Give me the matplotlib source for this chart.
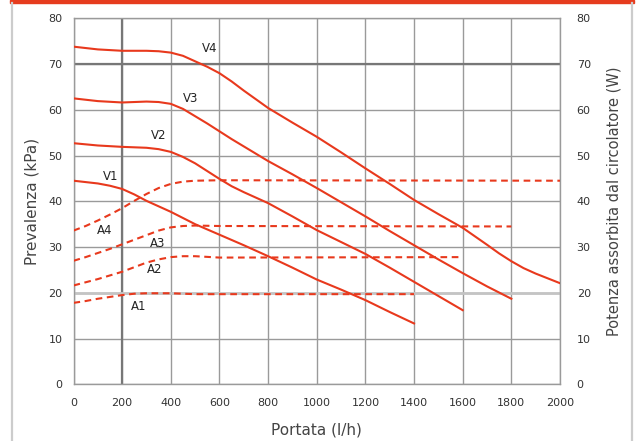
import matplotlib
matplotlib.use("Agg")
import matplotlib.pyplot as plt
from matplotlib.lines import Line2D
from matplotlib.patches import Rectangle

# ===== Data =====
v4_x = [0, 100, 200, 300, 350, 400, 450, 500, 550, 600, 650, 700, 800, 900, 1000, 1100, 1200, 1300, 1400, 1500, 1600, 1700, 1750, 1800, 1850, 1900, 2000]
v4_y = [73.8, 73.2, 72.9, 72.9, 72.8, 72.5, 71.8, 70.6, 69.4, 68.0, 66.2, 64.2, 60.4, 57.2, 54.1, 50.7, 47.2, 43.8, 40.3, 37.2, 34.2, 30.5, 28.6, 26.9, 25.4, 24.2, 22.1]
v3_x = [0, 100, 200, 300, 350, 400, 450, 500, 550, 600, 650, 700, 800, 900, 1000, 1100, 1200, 1300, 1400, 1500, 1600, 1700, 1800]
v3_y = [62.5, 61.9, 61.6, 61.8, 61.7, 61.3, 60.2, 58.6, 57.0, 55.3, 53.6, 52.0, 48.8, 45.9, 42.9, 39.8, 36.7, 33.5, 30.4, 27.3, 24.3, 21.4, 18.7]
v2_x = [0, 100, 200, 300, 350, 400, 450, 500, 550, 600, 650, 700, 800, 900, 1000, 1100, 1200, 1300, 1400, 1500, 1600]
v2_y = [52.7, 52.2, 51.9, 51.7, 51.4, 50.8, 49.7, 48.3, 46.6, 44.9, 43.3, 42.0, 39.6, 36.7, 33.7, 31.1, 28.5, 25.5, 22.4, 19.3, 16.2]
v1_x = [0, 100, 150, 200, 250, 300, 400, 500, 600, 700, 800, 900, 1000, 1100, 1200, 1300, 1400]
v1_y = [44.5, 43.9, 43.4, 42.7, 41.5, 40.1, 37.7, 35.0, 32.7, 30.4, 28.0, 25.5, 22.9, 20.7, 18.4, 15.8, 13.3]

a4_x = [0, 50, 100, 150, 200, 250, 300, 350, 400, 450, 500, 600, 2000]
a4_y = [33.6, 34.6, 35.8, 37.1, 38.5, 40.1, 41.6, 42.9, 43.8, 44.3, 44.5, 44.6, 44.5]
a3_x = [0, 50, 100, 150, 200, 250, 300, 350, 400, 450, 500, 600, 1800]
a3_y = [27.0, 27.8, 28.7, 29.6, 30.6, 31.6, 32.6, 33.6, 34.3, 34.6, 34.7, 34.6, 34.5]
a2_x = [0, 50, 100, 150, 200, 250, 300, 350, 400, 450, 500, 600, 1600]
a2_y = [21.6, 22.3, 23.0, 23.8, 24.6, 25.6, 26.6, 27.3, 27.8, 28.0, 28.0, 27.7, 27.8]
a1_x = [0, 50, 100, 150, 200, 250, 300, 400, 500, 1400]
a1_y = [17.8, 18.2, 18.7, 19.1, 19.5, 19.8, 19.9, 19.9, 19.7, 19.7]

x_ticks = list(range(0, 2001, 200))
y_ticks = list(range(0, 81, 10))

RED = "#e8391d"
GRID = "#9a9a9a"
TXT = "#333333"

# ===== Figure =====
fig = plt.figure(figsize=(6.38, 4.41), dpi=100)
fig.patch.set_facecolor("white")

# red band on top and light frame at the sides
fig.patches.append(Rectangle((10 / 638, 1 - 3 / 441), 624 / 638, 3 / 441,
                             transform=fig.transFigure, color="#e63c1e", zorder=0))
for fx in (12 / 638, 631.5 / 638):
    fig.lines.append(Line2D([fx, fx], [0, 1 - 3 / 441], transform=fig.transFigure,
                            color="#cccccc", lw=1.6))

ax = fig.add_axes([73.5 / 638, 56.7 / 441, 486.5 / 638, 366 / 441])
ax.set_xlim(0, 2000)
ax.set_ylim(0, 80)
ax.set_xticks(x_ticks)
ax.set_yticks(y_ticks)
ax.grid(True, color=GRID, lw=1.0)
ax.set_axisbelow(True)
for s in ax.spines.values():
    s.set_color(GRID)
    s.set_linewidth(1.0)
ax.tick_params(length=0, labelsize=8, colors=TXT, pad=8)
ax.tick_params(axis="x", pad=10)

# darker / lighter reference lines
ax.axvline(200, color="#777777", lw=1.6, zorder=1)
ax.axhline(70, color="#777777", lw=1.6, zorder=1)
ax.axhline(20, color="#c4c4c4", lw=2.0, zorder=1)

for xs, ys in [(v4_x, v4_y), (v3_x, v3_y), (v2_x, v2_y), (v1_x, v1_y)]:
    ax.plot(xs, ys, color=RED, lw=1.5, zorder=3, solid_joinstyle="round")
for xs, ys in [(a4_x, a4_y), (a3_x, a3_y), (a2_x, a2_y), (a1_x, a1_y)]:
    ax.plot(xs, ys, color=RED, lw=1.5, dashes=(3.2, 2.2), zorder=3)

labels = [("V4", 561, 73.5), ("V3", 483, 62.4), ("V2", 349, 54.3), ("V1", 154, 45.4),
          ("A4", 127, 33.7), ("A3", 346, 30.8), ("A2", 332, 25.0), ("A1", 266, 17.1)]
for t, lx, ly in labels:
    ax.text(lx, ly, t, fontsize=8.5, color="#222222", ha="center", va="center", zorder=4)

ax.set_xlabel("Portata (l/h)", fontsize=11, color="#444444", labelpad=10)
ax.set_ylabel("Prevalenza (kPa)", fontsize=11, color="#444444", labelpad=6)

ax2 = ax.twinx()
ax2.set_ylim(0, 80)
ax2.set_yticks(y_ticks)
ax2.tick_params(length=0, labelsize=8, colors=TXT, pad=12)
for s in ax2.spines.values():
    s.set_visible(False)
ax2.set_ylabel("Potenza assorbita dal circolatore (W)", fontsize=10.5, color="#444444", labelpad=11)

fig.savefig("out.png", dpi=100)
